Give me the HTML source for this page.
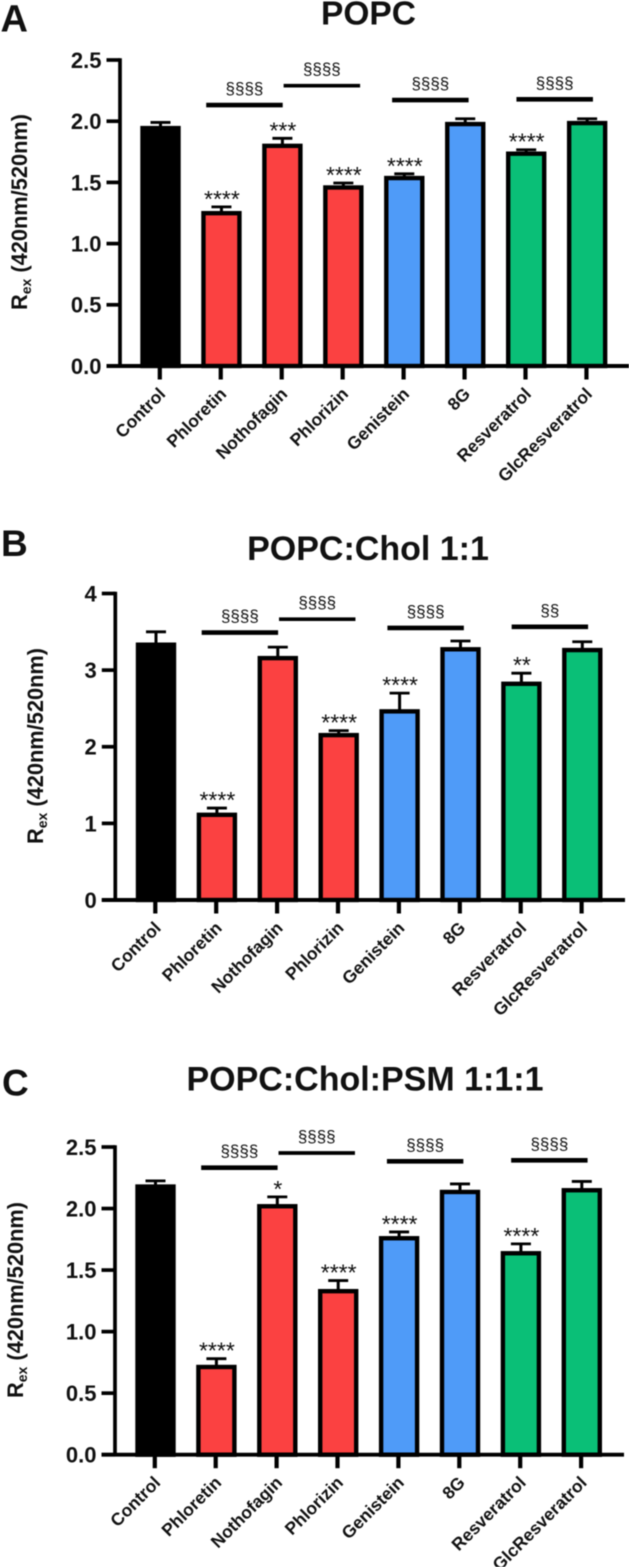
<!DOCTYPE html>
<html lang="en">
<head>
<meta charset="utf-8">
<title>Rex bar charts: POPC, POPC:Chol, POPC:Chol:PSM</title>
<style>
html,body{margin:0;padding:0;background:#fff;width:629px;height:1567px;overflow:hidden}
svg{display:block;filter:blur(0.4px)}
text{font-family:"Liberation Sans",Arial,sans-serif;fill:#111}
.b{font-weight:700}
</style>
</head>
<body>
<svg id="figure" xmlns="http://www.w3.org/2000/svg" width="629" height="1567" viewBox="0 0 629 1567">
  <rect x="0" y="0" width="629" height="1567" fill="#fff"/>

  <g id="panel-a">
    <text class="b" x="0.5" y="31.5" font-size="38">A</text>
    <text class="b" x="368.5" y="24.5" font-size="33.5" text-anchor="middle">POPC</text>
    <text class="b" font-size="21.8" text-anchor="middle" transform="translate(27 212) rotate(-90)">R<tspan font-size="14" dy="4">ex</tspan><tspan dy="-4"> (420nm/520nm)</tspan></text>
  </g>

  <g id="panel-b">
    <text class="b" x="1" y="556" font-size="37">B</text>
    <text class="b" x="368" y="560" font-size="34" text-anchor="middle">POPC:Chol 1:1</text>
    <text class="b" font-size="21.8" text-anchor="middle" transform="translate(43 746) rotate(-90)">R<tspan font-size="14" dy="4">ex</tspan><tspan dy="-4"> (420nm/520nm)</tspan></text>
  </g>

  <g id="panel-c">
    <text class="b" x="2" y="1095.5" font-size="37">C</text>
    <text class="b" x="365" y="1090.5" font-size="34" text-anchor="middle">POPC:Chol:PSM 1:1:1</text>
    <text class="b" font-size="21.8" text-anchor="middle" transform="translate(23 1300) rotate(-90)">R<tspan font-size="14" dy="4">ex</tspan><tspan dy="-4"> (420nm/520nm)</tspan></text>
  </g>
</svg>

<script>
// ---- data ----
var categories = ["Control","Phloretin","Nothofagin","Phlorizin","Genistein","8G","Resveratrol","GlcResveratrol"];
var barFills = ["#000000","#fb4141","#fb4141","#fb4141","#4f9bf8","#4f9bf8","#0abf77","#0abf77"];

var valuesA = [1.955,1.26,1.81,1.47,1.547,1.988,1.746,1.996];
var errorsA = [0.035,0.04,0.05,0.025,0.023,0.032,0.021,0.024];
var starsA  = ["","****","***","****","****","","****",""];
var ticksA  = [0,0.5,1,1.5,2,2.5];
var tickLabelsA = ["0.0","0.5","1.0","1.5","2.0","2.5"];
var sigLevelsA = [2.132,2.29,2.173,2.179];
var sigLabelsA = ["§§§§","§§§§","§§§§","§§§§"];

var valuesB = [3.35,1.13,3.175,2.17,2.48,3.29,2.84,3.28];
var errorsB = [0.15,0.07,0.125,0.04,0.22,0.09,0.12,0.09];
var starsB  = ["","****","","****","****","","**",""];
var ticksB  = [0,1,2,3,4];
var tickLabelsB = ["0","1","2","3","4"];
var sigLevelsB = [3.49,3.665,3.55,3.565];
var sigLabelsB = ["§§§§","§§§§","§§§§","§§"];

var valuesC = [2.19,0.724,2.03,1.34,1.77,2.146,1.648,2.16];
var errorsC = [0.035,0.056,0.065,0.075,0.04,0.054,0.065,0.06];
var starsC  = ["","****","*","****","****","","****",""];
var ticksC  = [0,0.5,1,1.5,2,2.5];
var tickLabelsC = ["0.0","0.5","1.0","1.5","2.0","2.5"];
var sigLevelsC = [2.332,2.451,2.384,2.392];
var sigLabelsC = ["§§§§","§§§§","§§§§","§§§§"];

// comparison brackets: start position in category units, common span
var sigStarts = [0.75,2.02,3.8,5.84];
var sigSpan = 1.255;

// ---- drawing ----
var NS = "http://www.w3.org/2000/svg";
function mk(parent, tag, attrs, txt) {
  var e = document.createElementNS(NS, tag);
  for (var k in attrs) e.setAttribute(k, attrs[k]);
  if (txt !== undefined) e.textContent = txt;
  parent.appendChild(e);
  return e;
}

function drawPanel(groupId, key, L, values, errors, stars, ticks, tickLabels, sigLevels, sigLabels) {
  var g = document.getElementById(groupId);
  var maxV = ticks[ticks.length - 1];
  function yOf(v) { return L.y0 - v * (L.y0 - L.yTop) / maxV; }
  function xOf(i) { return L.x0 + L.step * i; }
  var el, i;

  // error bars (behind bars)
  for (i = 0; i < values.length; i++) {
    var top = yOf(values[i] + errors[i]);
    el = mk(g, "line", {x1: xOf(i), x2: xOf(i), y1: yOf(values[i]) + 1, y2: top, stroke: "#000", "stroke-width": 3});
    
    
    el = mk(g, "line", {x1: xOf(i) - 10, x2: xOf(i) + 10, y1: top, y2: top, stroke: "#000", "stroke-width": 2.8});
    
    
  }

  // bars
  var sw = 4.4, bw = 40.4, lift = 0.8;
  for (i = 0; i < values.length; i++) {
    el = mk(g, "rect", {
      x: xOf(i) - bw / 2 + sw / 2,
      y: yOf(values[i]) - lift + sw / 2,
      width: bw - sw,
      height: L.y0 - yOf(values[i]) + lift - sw / 2,
      fill: barFills[i], stroke: "#000", "stroke-width": sw
    });
    
    
  }

  // y axis
  el = mk(g, "line", {x1: L.axisX, x2: L.axisX, y1: yOf(maxV) - 1.8, y2: L.y0, stroke: "#000", "stroke-width": 3.7});
  
  
  for (i = 0; i < ticks.length; i++) {
    el = mk(g, "line", {x1: L.axisX - 13.5, x2: L.axisX, y1: yOf(ticks[i]), y2: yOf(ticks[i]), stroke: "#000", "stroke-width": 3.7});
    
    
    el = mk(g, "text", {x: L.axisX - 18.5, y: yOf(ticks[i]) + 7.9, "text-anchor": "end", "font-size": 22, "font-weight": 700}, tickLabels[i]);
    
    
  }

  // x axis
  el = mk(g, "line", {x1: L.axisX - 13.5, x2: L.xEnd, y1: L.y0, y2: L.y0, stroke: "#000", "stroke-width": 3.9});
  
  
  for (i = 0; i < categories.length; i++) {
    el = mk(g, "line", {x1: xOf(i) - 0.7, x2: xOf(i) - 0.7, y1: L.y0, y2: L.y0 + 13.5, stroke: "#000", "stroke-width": 4.2});
    
    
    el = mk(g, "text", {"text-anchor": "end", "font-size": 17.5, "font-weight": 700,
      transform: "translate(" + (xOf(i) + 6) + " " + (L.y0 + 29) + ") rotate(-45)"}, categories[i]);
    
    
  }

  // significance stars
  for (i = 0; i < stars.length; i++) {
    if (!stars[i]) continue;
    el = mk(g, "text", {x: xOf(i) + 0.5, y: yOf(values[i] + errors[i]) - 13 + 13, "text-anchor": "middle", "font-size": 23, fill: "#222"}, stars[i]);
    
    
  }

  // comparison brackets
  for (i = 0; i < sigLevels.length; i++) {
    var xa = xOf(sigStarts[i]), xb = xOf(sigStarts[i] + sigSpan), ys = yOf(sigLevels[i]);
    el = mk(g, "line", {x1: xa, x2: xb, y1: ys, y2: ys, stroke: "#000", "stroke-width": i === 1 ? 3.7 : 4.6});
    
    
    el = mk(g, "text", {x: (xa + xb) / 2, y: ys - 15.5 + 4.5, "text-anchor": "middle", "font-size": 17, fill: "#555"}, sigLabels[i]);
    
    
  }
}

drawPanel("panel-a", "panel-a", {x0: 160.5, step: 60.95, y0: 366, yTop: 60, axisX: 120, xEnd: 629}, valuesA, errorsA, starsA, ticksA, tickLabelsA, sigLevelsA, sigLabelsA);
drawPanel("panel-b", "panel-b", {x0: 156, step: 60.9, y0: 900, yTop: 593.5, axisX: 115.3, xEnd: 625}, valuesB, errorsB, starsB, ticksB, tickLabelsB, sigLevelsB, sigLabelsB);
drawPanel("panel-c", "panel-c", {x0: 155.5, step: 60.9, y0: 1454.7, yTop: 1147, axisX: 115, xEnd: 624}, valuesC, errorsC, starsC, ticksC, tickLabelsC, sigLevelsC, sigLabelsC);
</script>
</body>
</html>
